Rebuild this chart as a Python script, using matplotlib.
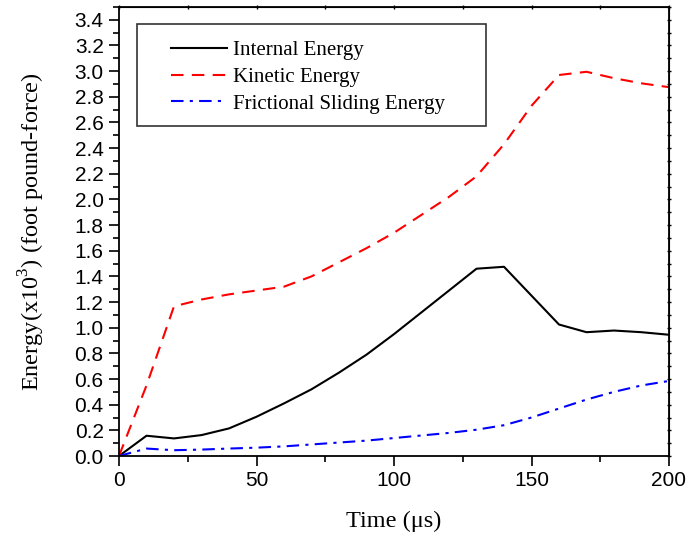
import numpy as np
import matplotlib
matplotlib.use("Agg")
import matplotlib.pyplot as plt
from matplotlib.patches import Rectangle

plt.rcParams['font.family'] = ['Liberation Serif', 'DejaVu Serif']
plt.rcParams['mathtext.fontset'] = 'custom'
plt.rcParams['mathtext.rm'] = 'Liberation Serif'

# time (microseconds)
time = [0, 10, 20, 30, 40, 50, 60, 70, 80, 90, 100,
        110, 120, 130, 140, 150, 160, 170, 180, 190, 200]

# energies (x10^3 foot pound-force)
internal = [0.0, 0.158, 0.137, 0.163, 0.215, 0.306, 0.41, 0.52, 0.65, 0.79, 0.95,
            1.12, 1.29, 1.46, 1.475, 1.25, 1.025, 0.965, 0.978, 0.965, 0.945]
kinetic = [0.0, 0.55, 1.167, 1.22, 1.26, 1.29, 1.32, 1.40, 1.51, 1.62, 1.74,
           1.88, 2.02, 2.18, 2.43, 2.73, 2.97, 2.995, 2.945, 2.905, 2.875]
frictional = [0.0, 0.058, 0.045, 0.05, 0.058, 0.065, 0.075, 0.09, 0.105, 0.12, 0.14,
              0.16, 0.18, 0.205, 0.24, 0.30, 0.37, 0.44, 0.50, 0.55, 0.585]

fig = plt.figure(figsize=(6.86, 5.33), dpi=100)
ax = fig.add_axes([119/686, 1 - 456/533, 550/686, 449/533])

ax.plot(time, internal, color='black', lw=1.5, label='Internal Energy')
ax.plot(time, kinetic, color='red', lw=1.5, ls=(0, (6, 4)), label='Kinetic Energy')
ax.plot(time, frictional, color='blue', lw=1.5, ls=(0, (6, 3, 1.5, 3)),
        label='Frictional Sliding Energy')

ax.set_xlim(0, 200)
ax.set_ylim(0, 3.5)
xmaj = np.arange(0, 201, 50)
xmin = np.arange(0, 201, 25)
ymaj = np.arange(0, 3.41, 0.2)
ymin = np.arange(0, 3.51, 0.1)
ax.set_xticks(xmaj)
ax.set_xticks(xmin, minor=True)
ax.set_yticks(ymaj)
ax.set_yticks(ymin, minor=True)
ax.set_yticklabels(['%.1f' % v for v in ymaj])
ax.tick_params(which='both', direction='out', width=1.2)
ax.tick_params(which='major', length=7, pad=4, labelsize=15)
ax.tick_params(which='minor', length=4)
for lab in ax.get_xticklabels() + ax.get_yticklabels():
    lab.set_fontfamily('Liberation Sans')
for s in ax.spines.values():
    s.set_linewidth(1.3)

# small mirrored ticks on top and right
top = ax.secondary_xaxis('top')
top.set_xticks(xmaj)
top.set_xticks(xmin, minor=True)
top.tick_params(which='both', direction='inout', length=3, width=1, labeltop=False)
right = ax.secondary_yaxis('right')
right.set_yticks(ymaj)
right.set_yticks(ymin, minor=True)
right.tick_params(which='both', direction='inout', length=3, width=1, labelright=False)

ax.set_xlabel('Time (\u03bcs)', fontsize=17.5, labelpad=15)
ax.set_ylabel('Energy(x10$^3$) (foot pound-force)', fontsize=17.5, labelpad=20)

# legend frame drawn separately
ax.add_patch(Rectangle((0.0327, 0.735), 0.634, 0.227, transform=ax.transAxes,
                       fill=False, edgecolor='#333333', lw=1.2, zorder=4))
leg = ax.legend(loc='upper left', bbox_to_anchor=(0.0945, 0.925), fontsize=15,
                frameon=False, handlelength=2.7, borderpad=0, labelspacing=0.34,
                borderaxespad=0, handletextpad=0.3)

fig.savefig('out.png', dpi=100)
